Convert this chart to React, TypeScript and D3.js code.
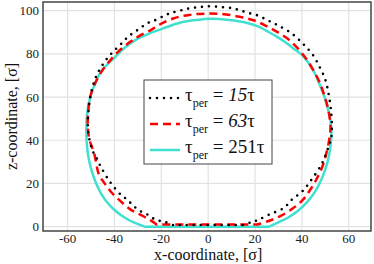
import * as d3 from 'd3';

// contour of the droplet (x, z in sigma)
const dotX = [-15, -18.5, -22.4, -25.7, -28.8, -31.7, -34.5, -37.3, -41.9, -45.9, -47.6, -49.2, -50.4, -51.3, -51.2, -50.3, -49, -47.2, -45, -42.5, -39.6, -36.6, -34.1, -31.1, -27.7, -25.3, -21.7, -18.1, -15.3, -11, -7.8, -3.9, 0, 6.3, 10.4, 14, 17.7, 21.4, 25, 28, 30.8, 34.5, 37.3, 40.2, 42.3, 45.2, 47.3, 50, 51.6, 52.6, 52.8, 52.5, 51.4, 48.7, 43.6, 40.1, 35.7, 32.2, 25.8, 21.5, 18.7, 15];
const dotZ = [0.8, 2.2, 3.2, 5.5, 7.1, 9.4, 12.5, 14.8, 20.7, 27.9, 31.8, 34.8, 39, 45, 52, 60, 66, 71, 75, 78.7, 82, 85.2, 88, 90.3, 92.9, 94.5, 96, 98, 99.1, 100.3, 101.1, 101.6, 102, 101.6, 101.1, 100, 98.8, 97.7, 95.7, 94.2, 92.6, 90.3, 88, 84.9, 82.6, 78.7, 74.5, 68, 60.2, 51.8, 46, 41, 37.1, 29.5, 21, 16.3, 12.5, 8.6, 5.5, 3.2, 2.2, 0.8];

const dashX = [-22, -24.5, -28.8, -33.1, -37.3, -41.6, -44.5, -46.6, -48.7, -50.6, -51.4, -51.2, -50.4, -48, -44.5, -41.8, -38.8, -33.1, -29.5, -24.5, -21, -14.6, -8.2, -1.8, 5, 13.4, 20, 25, 30, 34.5, 38.3, 42, 44.8, 47.5, 49.5, 51.3, 52.2, 52, 50.8, 48.8, 46, 43.5, 40.5, 36.2, 31, 25.5, 21];
const dashZ = [1, 2.9, 5.5, 7.9, 11.7, 16.3, 20.5, 24, 34.1, 40, 46, 53, 60, 67, 73.4, 77, 80.6, 85.7, 88.2, 91, 93.4, 96.5, 98, 98.6, 98.5, 97.2, 95.3, 92.8, 89.8, 86.5, 82.5, 77.5, 72.6, 67, 61, 54, 47, 42.5, 35.6, 28, 21.5, 17, 12.5, 8.5, 5, 2.5, 1];

const solidX = [-27, -31, -35, -39, -42.5, -45.5, -47.8, -49.6, -50.9, -51.7, -52, -51.6, -50.3, -48, -45.2, -40.2, -35.9, -30.9, -26, -18.9, -11.7, -4.6, 1, 8, 15, 21, 26, 30, 33.4, 37, 40, 43, 45.5, 47.5, 49.5, 51, 52.2, 52.6, 52.3, 51.4, 50, 48, 45.5, 42.3, 38.5, 34.5, 30, 26];
const solidZ = [0, 1.6, 3.8, 6.8, 10.5, 15, 20, 25.5, 31, 37, 44, 53, 60, 67, 72.6, 78, 82.6, 86.5, 89, 91.9, 94.5, 95.7, 96.2, 95.8, 94.7, 92.8, 90, 87.5, 85, 82, 79.5, 75.5, 71, 66, 60.5, 55, 49, 44, 38, 32, 26.5, 21, 16, 11.5, 7.5, 4.5, 2, 0];

const xTicks = [-60, -40, -20, 0, 20, 40, 60];
const zTicks = [0, 20, 40, 60, 80, 100];
const periods = ['15', '63', '251'];

const W = 374;
const H = 264;
const left = 43, right = 371, top = 2, bottom = 231;
const serif = '"Liberation Serif", "DejaVu Serif", serif';

export default function App() {
  const x = d3.scaleLinear().domain([-70.5, 69.5]).range([left, right]);
  const y = d3.scaleLinear().domain([-2, 104]).range([bottom, top]);

  // smooth open contour, straight segment back along the substrate
  const path = (xs: number[], zs: number[]) =>
    (d3.line<number>().x((d, i) => x(xs[i])).y((d, i) => y(zs[i])).curve(d3.curveCatmullRom.alpha(0.5))(xs) || '') + 'Z';

  const series = [
    { d: path(solidX, solidZ), color: '#40e0d0', dash: undefined, cap: 'butt' },
    { d: path(dashX, dashZ), color: '#ff0000', dash: '8 5', cap: 'butt' },
    { d: path(dotX, dotZ), color: '#000000', dash: '0 7', cap: 'round' },
  ];
  const legendStyles = [series[2], series[1], series[0]];

  return (
    <svg width={W} height={H} style={{ position: 'absolute', left: 0, top: 0 }} fontFamily={serif}>
      <rect x={0} y={0} width={W} height={H} fill="#fff" />
      {/* grid */}
      {xTicks.map(t => (
        <line key={'gx' + t} x1={x(t)} x2={x(t)} y1={top} y2={bottom} stroke="#e2e2e2" strokeWidth={1.2} />
      ))}
      {zTicks.map(t => (
        <line key={'gz' + t} x1={left} x2={right} y1={y(t)} y2={y(t)} stroke="#e2e2e2" strokeWidth={1.2} />
      ))}
      {/* curves */}
      {series.map((s, i) => (
        <path key={i} d={s.d} fill="none" stroke={s.color} strokeWidth={s.cap === 'round' ? 2.6 : 2.5}
          strokeDasharray={s.dash} strokeLinecap={s.cap as any} strokeLinejoin="round" />
      ))}
      {/* frame */}
      <rect x={left} y={top} width={right - left} height={bottom - top} fill="none" stroke="#444" strokeWidth={1.5} />
      {/* tick labels */}
      {xTicks.map(t => (
        <text key={'tx' + t} x={x(t)} y={243} textAnchor="middle" fontSize={13} fill="#222">{t}</text>
      ))}
      {zTicks.map(t => (
        <text key={'tz' + t} x={39} y={y(t) + 4.5} textAnchor="end" fontSize={13} fill="#222">{t}</text>
      ))}
      {/* axis titles */}
      <text x={x(0)} y={260} textAnchor="middle" fontSize={16} fill="#111">x-coordinate, [σ]</text>
      <text transform={`translate(17,${(top + bottom) / 2}) rotate(-90)`} textAnchor="middle" fontSize={16} fill="#111">
        z-coordinate, [σ]
      </text>
      {/* legend */}
      <rect x={144} y={80} width={128} height={84} fill="#fff" stroke="#444" strokeWidth={1} />
      {periods.map((p, i) => {
        const ly = 98 + i * 26;
        const s = legendStyles[i];
        return (
          <g key={p}>
            <line x1={150} x2={180} y1={ly} y2={ly} stroke={s.color} strokeWidth={s.cap === 'round' ? 2.6 : 2.5}
              strokeDasharray={s.dash} strokeLinecap={s.cap as any} />
            <text x={185} y={ly + 3} fontSize={19} fill="#111">
              τ<tspan fontSize={12} dy={6}>per</tspan>
              <tspan dy={-6}> = </tspan>
              <tspan fontStyle={i < 2 ? 'italic' : 'normal'}>{p}</tspan>τ
            </text>
          </g>
        );
      })}
    </svg>
  );
}
